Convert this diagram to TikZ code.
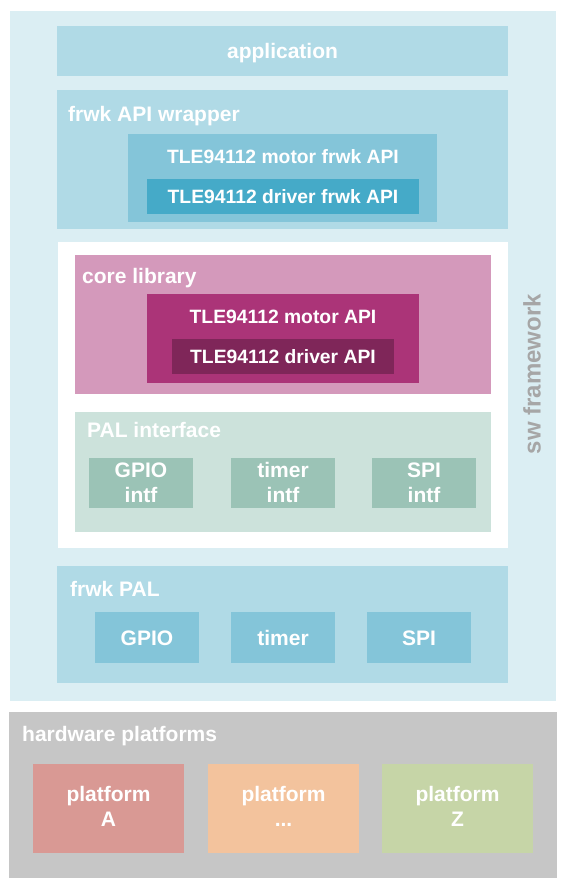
\documentclass[tikz,border=0pt]{standalone}
\usepackage{fontspec}
\setmainfont{Liberation Sans}
\definecolor{swbg}{HTML}{DBEEF3}
\definecolor{lblue}{HTML}{B0DAE6}
\definecolor{mblue}{HTML}{84C5D9}
\definecolor{dblue}{HTML}{45AAC8}
\definecolor{lpink}{HTML}{D499BB}
\definecolor{mpink}{HTML}{AB3478}
\definecolor{dpink}{HTML}{7F2659}
\definecolor{lgreen}{HTML}{CCE2DB}
\definecolor{mgreen}{HTML}{9BC3B6}
\definecolor{hwgray}{HTML}{C6C6C6}
\definecolor{platA}{HTML}{D99994}
\definecolor{platB}{HTML}{F3C39D}
\definecolor{platZ}{HTML}{C6D5A7}
\definecolor{swtext}{HTML}{A6A6A6}
\begin{document}
\begin{tikzpicture}[x=1pt,y=-1pt,
  blk/.style={fill=#1, draw=none, anchor=north west, inner sep=0pt, outer sep=0pt},
  big/.style={font=\fontsize{21}{25}\selectfont\bfseries, text=white},
  tle/.style={font=\fontsize{19.3}{23}\selectfont\bfseries, text=white},
  capc/.style={text height=15pt, text depth=0pt},
  lbl/.style={big, inner sep=0pt, anchor=base west},
  two/.style={big, align=center}]
\useasboundingbox (0,0) rectangle (567,887);
\fill[white] (0,0) rectangle (567,887);

% sw framework
\node[blk=swbg, minimum width=546pt, minimum height=690pt] (sw) at (10,11) {};
\node[font=\fontsize{24}{28}\selectfont\bfseries, text=swtext, rotate=90, inner sep=0pt] (swlbl) at (532,374) {sw framework};

% application
\node[blk=lblue, minimum width=451pt, minimum height=50pt, big, capc] (app) at (57,26) {application};

% frwk API wrapper
\node[blk=lblue, minimum width=451pt, minimum height=139pt] (wrap) at (57,90) {};
\node[lbl] (wrapL) at (68,121) {frwk API wrapper};
\node[blk=mblue, minimum width=309pt, minimum height=88pt] (mfrwk) at (128,134) {};
\node[tle, inner sep=0pt, anchor=base] (mfrwkL) at (283,163) {TLE94112 motor frwk API};
\node[blk=dblue, minimum width=272pt, minimum height=35pt] (dfrwk) at (147,179) {};
\node[tle, inner sep=0pt, anchor=base] (dfrwkL) at (283,203) {TLE94112 driver frwk API};

% white panel
\node[blk=white, minimum width=450pt, minimum height=306pt] (core) at (58,242) {};

% core library
\node[blk=lpink, minimum width=416pt, minimum height=139pt] (corelib) at (75,255) {};
\node[lbl] (coreL) at (82,283) {core library};
\node[blk=mpink, minimum width=272pt, minimum height=89pt] (mapi) at (147,294) {};
\node[tle, inner sep=0pt, anchor=base] (mapiL) at (283,323) {TLE94112 motor API};
\node[blk=dpink, minimum width=222pt, minimum height=35pt] (dapi) at (172,339) {};
\node[tle, inner sep=0pt, anchor=base] (dapiL) at (283,363) {TLE94112 driver API};

% PAL interface
\node[blk=lgreen, minimum width=416pt, minimum height=120pt] (palif) at (75,412) {};
\node[lbl] (palifL) at (87,437) {PAL interface};
\node[blk=mgreen, minimum width=104pt, minimum height=50pt] (gpioif) at (89,458) {};
\node[blk=mgreen, minimum width=104pt, minimum height=50pt] (timerif) at (231,458) {};
\node[blk=mgreen, minimum width=104pt, minimum height=50pt] (spiif) at (372,458) {};
\node[two, inner sep=0pt] (gpioifL) at (gpioif.center) {GPIO\\intf};
\node[two, inner sep=0pt] (timerifL) at ([yshift=1pt]timerif.center) {timer\\intf};
\node[two, inner sep=0pt] (spiifL) at (spiif.center) {SPI\\intf};

% frwk PAL
\node[blk=lblue, minimum width=451pt, minimum height=117pt] (fpal) at (57,566) {};
\node[lbl] (fpalL) at (70,596) {frwk PAL};
\node[blk=mblue, minimum width=104pt, minimum height=51pt, big, capc] (gpio) at (95,612) {GPIO};
\node[blk=mblue, minimum width=104pt, minimum height=51pt, big, capc] (timer) at (231,612) {timer};
\node[blk=mblue, minimum width=104pt, minimum height=51pt, big, capc] (spi) at (367,612) {SPI};

% hardware platforms
\node[blk=hwgray, minimum width=548pt, minimum height=166pt] (hw) at (9,712) {};
\node[lbl] (hwL) at (22,741) {hardware platforms};
\node[blk=platA, minimum width=151pt, minimum height=89pt] (pA) at (33,764) {};
\node[blk=platB, minimum width=151pt, minimum height=89pt] (pB) at (208,764) {};
\node[blk=platZ, minimum width=151pt, minimum height=89pt] (pZ) at (382,764) {};
\node[two, inner sep=0pt] (pAL) at ([yshift=2pt]pA.center) {platform\\A};
\node[two, inner sep=0pt] (pBL) at ([yshift=2pt]pB.center) {platform\\...};
\node[two, inner sep=0pt] (pZL) at ([yshift=2pt]pZ.center) {platform\\Z};
\end{tikzpicture}
\end{document}
